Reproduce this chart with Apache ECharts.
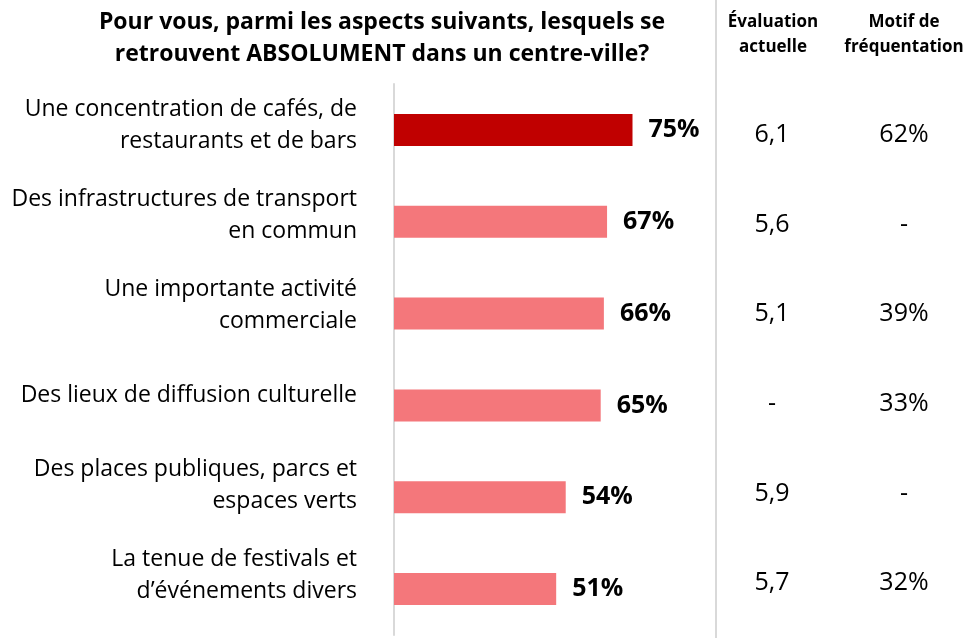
<!DOCTYPE html>
<html>
<head>
<meta charset="utf-8">
<script src="https://cdn.jsdelivr.net/npm/echarts@6/dist/echarts.min.js"></script>
<style>
html,body{margin:0;padding:0;background:#fff;}
#main{width:967px;height:638px;}
</style>
</head>
<body>
<div id="main"></div>
<script>
var categories = [
  'Une concentration de cafés, de\nrestaurants et de bars',
  'Des infrastructures de transport\nen commun',
  'Une importante activité\ncommerciale',
  'Des lieux de diffusion culturelle',
  'Des places publiques, parcs et\nespaces verts',
  'La tenue de festivals et\nd\u2019événements divers'
];
var absolumentValues = [75, 67, 66, 65, 54, 51];
var evaluationActuelle = ['6,1', '5,6', '5,1', '-', '5,9', '5,7'];
var motifFrequentation = ['62%', '-', '39%', '33%', '-', '32%'];

var FONT = '"Open Sans", sans-serif';
var chart = echarts.init(document.getElementById('main'), null, {renderer: 'canvas'});

var barData = absolumentValues.map(function (v, i) {
  return {value: v, itemStyle: {color: i === 0 ? '#C00000' : '#F4777B'}};
});

function hiddenX(gridIndex) {
  return {type: 'value', min: 0, max: 100, show: false, gridIndex: gridIndex};
}

function sideAxis(data, offset) {
  return {
    type: 'category',
    gridIndex: 2,
    inverse: true,
    position: 'right',
    offset: offset,
    data: data,
    axisLine: {show: false},
    axisTick: {show: false},
    splitLine: {show: false},
    axisLabel: {
      margin: 0,
      align: 'center',
      fontFamily: FONT,
      fontSize: 25,
      color: '#000'
    }
  };
}

chart.setOption({
  backgroundColor: '#fff',
  animation: false,
  title: [
    {
      text: 'Pour vous, parmi les aspects suivants, lesquels se\nretrouvent ABSOLUMENT dans un centre-ville?',
      left: 382,
      top: 6,
      padding: 0,
      textAlign: 'center',
      textStyle: {fontFamily: FONT, fontWeight: 'bold', fontSize: 23, lineHeight: 32, color: '#000'}
    },
    {
      text: 'Évaluation\nactuelle',
      left: 773,
      top: 10,
      padding: 0,
      textAlign: 'center',
      textStyle: {fontFamily: FONT, fontWeight: 'bold', fontSize: 17, lineHeight: 25, color: '#000'}
    },
    {
      text: 'Motif de\nfréquentation',
      left: 904,
      top: 10,
      padding: 0,
      textAlign: 'center',
      textStyle: {fontFamily: FONT, fontWeight: 'bold', fontSize: 17, lineHeight: 25, color: '#000'}
    }
  ],
  grid: [
    {left: 394, right: 255, top: 84, bottom: 3},
    {left: 394, right: 255, top: 80, bottom: 17},
    {left: 394, right: 255, top: 90, bottom: 10}
  ],
  xAxis: [hiddenX(0), hiddenX(1), hiddenX(2)],
  yAxis: [
    {
      type: 'category',
      gridIndex: 0,
      inverse: true,
      data: categories,
      axisLine: {show: true, lineStyle: {color: '#D9D9D9', width: 2}},
      axisTick: {show: false},
      splitLine: {show: false},
      axisLabel: {show: false}
    },
    {
      type: 'category',
      gridIndex: 1,
      inverse: true,
      data: categories,
      axisLine: {show: false},
      axisTick: {show: false},
      splitLine: {show: false},
      axisLabel: {
        margin: 37,
        align: 'right',
        fontFamily: FONT,
        fontSize: 23,
        lineHeight: 32,
        color: '#000'
      }
    },
    sideAxis(evaluationActuelle, 60),
    sideAxis(motifFrequentation, 192)
  ],
  graphic: [
    {
      type: 'line',
      shape: {x1: 716, y1: 0, x2: 716, y2: 638},
      style: {stroke: '#D9D9D9', lineWidth: 2}
    }
  ],
  series: [
    {
      type: 'bar',
      xAxisIndex: 0,
      yAxisIndex: 0,
      data: barData,
      barWidth: 32,
      label: {
        show: true,
        position: 'right',
        distance: 16,
        formatter: '{c}%',
        fontFamily: FONT,
        fontWeight: 'bold',
        fontSize: 25,
        color: '#000'
      }
    }
  ]
});
</script>
</body>
</html>
